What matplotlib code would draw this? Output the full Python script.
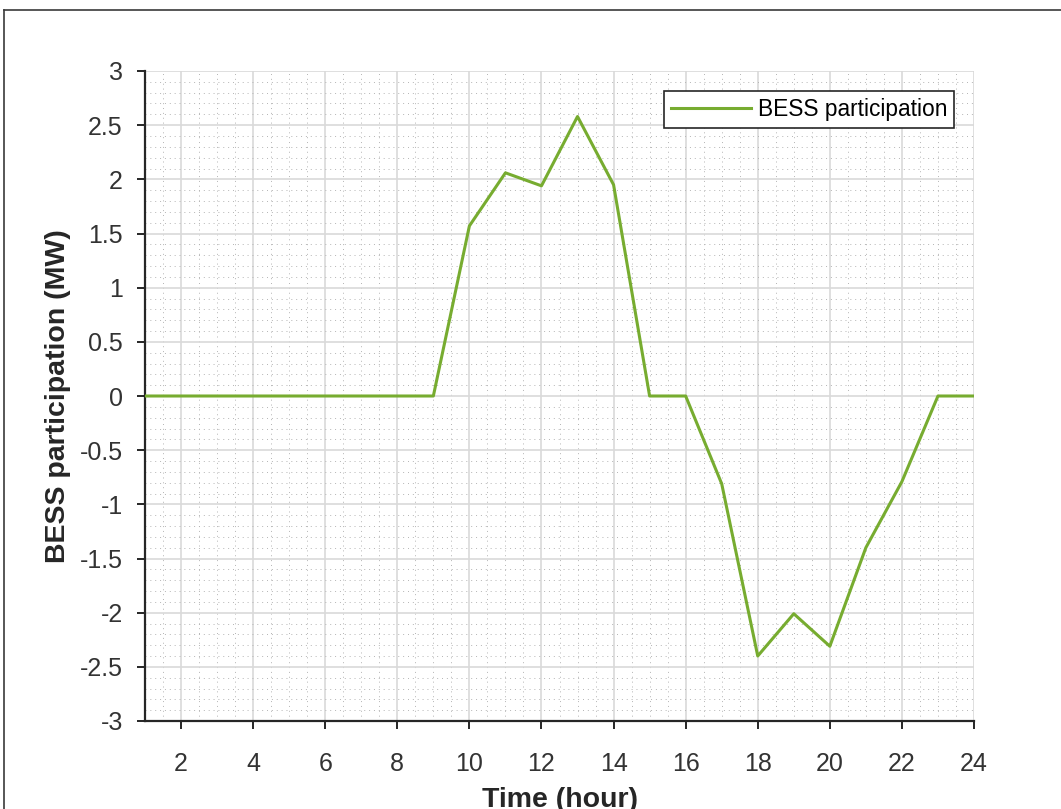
import matplotlib
matplotlib.use('Agg')
import matplotlib.pyplot as plt
from matplotlib.lines import Line2D
from matplotlib.ticker import MultipleLocator

plt.rcParams['font.family'] = ['Liberation Sans', 'DejaVu Sans']
plt.rcParams['axes.unicode_minus'] = False

# hourly BESS dispatch (positive = discharge, negative = charge)
hours = list(range(1, 25))
bess_mw = [0, 0, 0, 0, 0, 0, 0, 0, 0,
           1.57, 2.06, 1.94, 2.58, 1.95, 0, 0,
           -0.81, -2.40, -2.01, -2.31, -1.40, -0.79, 0, 0]

x_ticks = list(range(2, 25, 2))
y_ticks = [-3, -2.5, -2, -1.5, -1, -0.5, 0, 0.5, 1, 1.5, 2, 2.5, 3]
y_tick_labels = ['-3', '-2.5', '-2', '-1.5', '-1', '-0.5', '0',
                 '0.5', '1', '1.5', '2', '2.5', '3']

W, H = 1061, 809
fig = plt.figure(figsize=(W / 100, H / 100), dpi=100)
ax = fig.add_axes([145 / W, 1 - 721 / H, (974 - 145) / W, (721 - 71) / H])

line_color = (0.466, 0.674, 0.188)
ax.plot(hours, bess_mw, color=line_color, lw=2.2, label='BESS participation',
        zorder=3)

ax.set_xlim(1, 24)
ax.set_ylim(-3, 3)
ax.set_xticks(x_ticks)
ax.set_yticks(y_ticks)
ax.set_yticklabels(y_tick_labels)
ax.xaxis.set_minor_locator(MultipleLocator(0.5))
ax.yaxis.set_minor_locator(MultipleLocator(0.1))

ax.grid(which='major', color='#d9d9d9', lw=1.2, ls='-', zorder=0)
ax.grid(which='minor', color='#b4b4b4', lw=0.7, ls=(0, (1, 4)), zorder=0)
ax.set_axisbelow(True)

for side in ('top', 'right'):
    ax.spines[side].set_visible(False)
for side in ('left', 'bottom'):
    ax.spines[side].set_color('#262626')
    ax.spines[side].set_linewidth(1.6)

ax.tick_params(which='major', direction='out', length=6, width=1.4,
               color='#262626', labelcolor='#333333', labelsize=18)
ax.tick_params(axis='x', which='major', pad=16)
ax.tick_params(axis='y', which='major', pad=10)
ax.tick_params(which='minor', length=0)

ax.set_xlabel('Time (hour)', fontsize=20.5, fontweight='bold', color='#262626',
              labelpad=8)
ax.set_ylabel('BESS participation (MW)', fontsize=20.5, fontweight='bold',
              color='#262626', labelpad=6.5)

leg = ax.legend(loc='upper right', bbox_to_anchor=((954 - 145) / 829, 1 - 20 / 650),
                borderaxespad=0, fontsize=16.4, frameon=True, fancybox=False,
                edgecolor='#262626', handlelength=3.5, handletextpad=0.3,
                borderpad=0.3)
leg.get_frame().set_linewidth(1.2)
leg.get_frame().set_alpha(1)

# figure border along the top and left edges
fig.add_artist(Line2D([3.5 / W, 3.5 / W], [0, 1 - 10 / H], color='#3a3a3a',
                      lw=1.2, transform=fig.transFigure))
fig.add_artist(Line2D([3.5 / W, 1], [1 - 10 / H, 1 - 10 / H], color='#3a3a3a',
                      lw=1.2, transform=fig.transFigure))

fig.savefig('out.png', dpi=100)
